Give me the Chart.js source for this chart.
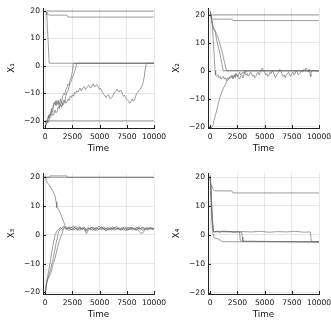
<!DOCTYPE html>
<html>
<head>
<meta charset="utf-8">
<script src="https://cdn.jsdelivr.net/npm/chart.js@4.4.1/dist/chart.umd.min.js"></script>
<style>
html,body{margin:0;padding:0;background:#fff;overflow:hidden;width:331px;height:331px;}
canvas{position:absolute;}
</style>
</head>
<body>
<canvas id="c1"></canvas>
<canvas id="c2"></canvas>
<canvas id="c3"></canvas>
<canvas id="c4"></canvas>
<script>
// ---------- tick labels ----------
const timeTicks = [0, 2500, 5000, 7500, 10000];
const valueTicks = [-20, -10, 0, 10, 20];
const axisTitles = ['X\u2081', 'X\u2082', 'X\u2083', 'X\u2084'];
const xTitle = 'Time';

// ---------- X1 series [time, value] ----------
const x1_top = [[0,20],[10000,20]];
const x1_step = [[0,20],[100,19.5],[250,18.8],[400,18.5],[2000,18.5],[2100,17.8],[10000,17.8]];
const x1_drop = [[0,20],[100,19.6],[150,18.5],[370,1],[10000,1]];
const x1_walkA = [[0,-21],[100,-20],[150,-20.8],[200,-19.5],[300,-18],[350,-19],[400,-18.5],[500,-17],[600,-15.5],[650,-16.8],[700,-16],[800,-14],[900,-13],[950,-14.2],[1000,-14.5],[1100,-13],[1200,-12.5],[1300,-14],[1400,-12],[1500,-13.5],[1600,-11],[1700,-10],[1800,-10.5],[1900,-8.5],[2000,-8],[2100,-6.5],[2200,-7],[2300,-5],[2400,-4],[2500,-2],[2600,1],[10000,1]];
const x1_walkB = [[0,-22],[100,-21],[200,-20],[300,-19],[400,-17.5],[500,-18],[600,-16],[700,-15],[800,-13.5],[900,-14],[1000,-12.5],[1100,-14],[1200,-13],[1300,-15],[1400,-14],[1500,-13],[1600,-14.5],[1700,-12.5],[1800,-13],[1900,-11],[2000,-9.5],[2100,-9],[2200,-7.5],[2300,-6],[2400,-5.5],[2500,-4],[2600,-3.5],[2700,-2],[2800,-1],[2900,1],[10000,1]];
const x1_walkC = [[0,-22.5],[100,-21],[200,-20],[300,-20.5],[400,-19],[500,-18.5],[600,-17],[700,-18],[800,-17.5],[900,-16],[1000,-17],[1100,-16.5],[1200,-15],[1300,-15.5],[1400,-14],[1500,-15],[1600,-13.5],[1700,-14],[1800,-12.5],[1900,-13.5],[2000,-13],[2100,-12],[2200,-12.5],[2300,-11],[2400,-11.5],[2500,-10.5],[2600,-11],[2700,-9.5],[2800,-10],[2900,-9],[3000,-9.5],[3100,-8.6],[3200,-8],[3300,-9],[3400,-8.5],[3500,-7.8],[3600,-7.5],[3700,-8.6],[3800,-8],[3900,-7.4],[4000,-7],[4100,-7.8],[4200,-8],[4300,-7.2],[4400,-6.5],[4500,-7.3],[4600,-7.5],[4700,-6.8],[4800,-7],[4900,-7.8],[5000,-8.5],[5100,-8.2],[5200,-9],[5300,-9.8],[5400,-10.5],[5500,-10.9],[5600,-11.5],[5700,-10.7],[5800,-10.5],[5900,-11.4],[6000,-12],[6100,-11.6],[6200,-11],[6300,-10.2],[6400,-9.5],[6500,-9.2],[6600,-8.5],[6700,-9.1],[6800,-9.5],[6900,-8.8],[7000,-9],[7100,-10.2],[7200,-11],[7300,-10.6],[7400,-11.5],[7500,-12.1],[7600,-12.5],[7700,-13.2],[7800,-13.5],[7900,-12.7],[8000,-12],[8100,-12.8],[8200,-12.5],[8300,-11.2],[8400,-10],[8500,-9.6],[8600,-9],[8700,-8.6],[8800,-8],[8900,-7.2],[9000,-6],[9100,-4],[9200,-1],[9300,1],[10000,1]];
const x1_bottom = [[0,-20],[10000,-20]];

// ---------- X2 series ----------
const x2_top = [[0,20],[10000,20]];
const x2_step = [[0,20],[150,19],[300,18.5],[2000,18.5],[2100,18],[10000,18]];
const x2_fast = [[0,21.5],[100,19.5],[200,16],[300,10],[400,3],[450,0],[500,-1.5],[600,-2],[700,-1.5],[800,-2.5],[900,-2],[1000,-3],[1100,-2.5],[1200,-2],[1300,-3],[1400,-2.5],[1500,-3.5],[1600,-2.5],[1700,-3],[1800,-2],[1900,-2.5],[2000,-1.5],[2100,-2.5],[2200,-2],[2300,-1],[2400,-2],[2500,-1.5],[2600,-2.5],[2700,-3],[2800,-2],[2900,-1.5],[3000,-2.5],[3100,-1.5],[3200,-0.5],[3300,-1.5],[3400,-1],[3500,-2],[3600,-1.5],[3700,-0.5],[3800,-1],[3900,-2],[4000,-1.5],[4100,-2.5],[4200,-2],[4300,-1],[4400,-0.5],[4500,-1.5],[4600,-0.5],[4700,0.5],[4800,1],[4900,0],[5000,-0.5],[5100,-1.5],[5200,-1],[5300,-2],[5400,-1.5],[5500,-0.5],[5600,-1],[5700,0],[5800,-0.5],[5900,-1.5],[6000,-2.5],[6100,-1.5],[6200,-1],[6300,-0.5],[6400,0.5],[6500,0],[6600,-1],[6700,-2],[6800,-1.5],[6900,-2.5],[7000,-1.5],[7100,-1],[7200,-0.5],[7300,-1.5],[7400,-2],[7500,-1],[7600,-0.5],[7700,-1.5],[7800,-1],[7900,0],[8000,-0.5],[8100,-1.5],[8200,-1],[8300,-0.5],[8400,0],[8500,-0.5],[8600,0.5],[8700,0],[8800,1],[8900,0.5],[9000,-0.5],[9100,0.5],[9200,-1.5],[9250,-2],[9300,0],[10000,0]];
const x2_slowA = [[0,21],[100,19],[200,16.5],[300,15],[450,14],[600,11],[750,8.5],[900,6],[1050,3],[1200,0],[10000,0]];
const x2_slowB = [[0,20.5],[100,19.5],[200,17],[300,15.5],[450,14.5],[600,13],[750,11.5],[900,9.5],[1050,7.5],[1200,5],[1350,2.5],[1500,0],[10000,0]];
const x2_rise = [[0,-20],[100,-20.5],[200,-20],[300,-18.7],[450,-16.5],[610,-14],[760,-11.5],[920,-9.2],[1070,-7.5],[1220,-6.2],[1380,-5],[1530,-3.8],[1700,-3],[1850,-2.5],[1990,-2],[2100,-3],[2200,-1.5],[2300,-2.5],[2400,-1],[2500,-2],[2600,-1.5],[2700,-0.5],[2800,-1.5],[2900,-1],[3000,-0.5],[3100,-1],[3200,0],[3300,-0.5],[3400,0],[10000,0]];

// ---------- X3 series ----------
const x3_top = [[0,20],[10000,20]];
const x3_bump = [[0,20],[400,20],[450,20.5],[2000,20.5],[2050,20],[10000,20]];
const x3_desc = [[0,20.5],[100,19],[200,18],[350,17.5],[500,16.5],[650,15.5],[800,14.5],[917,13.4],[1000,11.5],[1070,9.5],[1200,9],[1350,8],[1500,6.5],[1680,4.6],[1850,3],[2000,2],[2200,2.8],[2400,1.6],[2600,2.4],[2800,3.0],[3000,2.1],[3200,1.5],[3400,2.6],[3600,1.9],[3800,0.4],[4000,1.8],[4200,2.7],[4400,2.0],[4600,1.4],[4800,2.5],[5000,2.9],[5200,1.7],[5400,2.2],[5600,1.3],[5800,2.4],[6000,2.0],[6200,2.8],[6400,1.5],[6600,2.3],[6800,1.8],[7000,2.6],[7200,2.1],[7400,1.4],[7600,2.7],[7800,2.2],[8000,1.6],[8200,2.5],[8400,1.9],[8600,2.8],[8800,2.0],[9000,1.5],[9200,2.4],[9400,1.8],[9600,2.6],[9800,2.1],[10000,1.9]];
const x3_riseA = [[0,-20],[100,-17],[250,-14],[400,-11],[610,-5.8],[750,-3],[917,0],[1100,1.5],[1220,1.7],[1400,2.6],[1600,1.8],[1800,2.9],[2000,2.2],[2200,1.4],[2400,2.5],[2600,3.1],[2800,2.0],[3000,1.6],[3200,2.7],[3400,1.9],[3600,2.4],[3800,1.2],[4000,2.3],[4200,1.7],[4400,2.6],[4600,2.1],[4800,1.5],[5000,2.2],[5200,2.8],[5400,1.9],[5600,2.4],[5800,1.6],[6000,2.7],[6200,1.8],[6400,2.3],[6600,2.9],[6800,2.0],[7000,1.6],[7200,2.4],[7400,2.0],[7600,1.5],[7800,2.6],[8000,2.2],[8200,1.8],[8400,2.7],[8600,1.3],[8800,0.5],[9000,0.7],[9200,2.1],[9400,2.6],[9600,1.9],[9800,2.4],[10000,2.0]];
const x3_riseB = [[0,-20.5],[150,-17],[300,-14.5],[500,-12],[750,-8],[1000,-3],[1200,0.5],[1376,2],[1500,2.2],[1700,3.0],[1900,1.9],[2100,2.6],[2300,2.0],[2500,1.7],[2700,2.5],[2900,2.1],[3100,2.9],[3300,1.8],[3500,2.3],[3700,1.5],[3900,2.5],[4100,2.0],[4300,2.7],[4500,1.8],[4700,2.4],[4900,1.9],[5100,2.6],[5300,2.2],[5500,1.7],[5700,2.5],[5900,2.1],[6100,1.6],[6300,2.6],[6500,2.0],[6700,2.4],[6900,1.7],[7100,2.3],[7300,2.8],[7500,2.0],[7700,1.8],[7900,2.6],[8100,2.1],[8300,1.6],[8500,2.4],[8700,2.0],[8900,2.7],[9100,1.8],[9300,2.3],[9500,2.0],[9700,2.5],[9900,1.9],[10000,2.1]];
const x3_riseC = [[0,-21],[150,-16],[300,-15],[500,-13.5],[750,-10],[917,-8],[1100,-5],[1300,-2],[1500,0],[1680,2],[1800,2.5],[2000,1.9],[2200,2.3],[2400,2.8],[2600,1.7],[2800,2.2],[3000,1.8],[3200,2.5],[3400,2.1],[3600,2.6],[3800,1.7],[4000,2.3],[4200,2.0],[4400,1.6],[4600,2.5],[4800,2.2],[5000,1.8],[5200,2.4],[5400,2.7],[5600,2.0],[5800,1.7],[6000,2.3],[6200,2.1],[6400,2.6],[6600,1.9],[6800,2.3],[7000,2.0],[7200,1.7],[7400,2.4],[7600,2.2],[7800,1.8],[8000,2.5],[8200,2.0],[8400,1.6],[8600,2.3],[8800,1.9],[9000,2.6],[9200,2.1],[9400,1.7],[9600,2.3],[9800,2.0],[10000,2.2]];

// ---------- X4 series ----------
const x4_step = [[0,20],[80,17],[150,16.6],[300,15.6],[400,15.2],[2000,15.2],[2100,14.5],[10000,14.5]];
const x4_a = [[0,20.5],[100,13],[200,5],[300,1.2],[500,1.0],[700,1.3],[900,0.9],[1100,1.2],[1300,1.0],[1500,1.3],[1700,0.9],[1900,1.1],[2100,1.2],[2300,0.9],[2500,1.1],[2700,1.0],[2750,-1.5],[2850,-2.3],[10000,-2.4]];
const x4_b = [[0,20],[100,14],[200,6],[300,1.0],[600,1.2],[900,1.0],[1200,1.3],[1500,1.0],[1800,1.2],[2100,0.9],[2400,1.2],[2700,1.0],[2900,1.0],[2950,-0.8],[3000,-2.2],[10000,-2.5]];
const x4_c = [[0,20.5],[100,12],[200,4],[300,1.1],[800,1.0],[1500,1.2],[2200,0.9],[3000,1.1],[3800,1.0],[4600,1.2],[5400,0.9],[6200,1.1],[7000,1.0],[7800,1.2],[8600,0.9],[9200,1.0],[9300,-2.4],[10000,-2.5]];
const x4_d = [[0,20],[100,10],[200,2],[300,-0.5],[400,-1.2],[700,-1.4],[900,-1.8],[1100,-2.4],[10000,-2.5]];

// ---------- panels ----------
const panels = [
  {id:'c1', left:0,   top:0,   h:165, yMin:-22.55, yMax:21.1, series:[x1_top,x1_step,x1_drop,x1_walkA,x1_walkB,x1_walkC,x1_bottom]},
  {id:'c2', left:165, top:0,   h:165, yMin:-20.5,  yMax:22.5, series:[x2_top,x2_step,x2_fast,x2_slowA,x2_slowB,x2_rise]},
  {id:'c3', left:0,   top:165, h:166, yMin:-20.6,  yMax:21.5, series:[x3_top,x3_bump,x3_desc,x3_riseA,x3_riseB,x3_riseC]},
  {id:'c4', left:165, top:165, h:166, yMin:-20.5,  yMax:21.4, series:[x4_step,x4_a,x4_b,x4_c,x4_d]}
];

const W = 185;
const fmt = v => v < 0 ? '\u2212' + Math.abs(v) : String(v);
const FONT = 'DejaVu Sans';

const innerTicks = {
  id: 'innerTicks',
  afterDatasetsDraw(chart) {
    const ctx = chart.ctx, a = chart.chartArea, xs = chart.scales.x, ys = chart.scales.y;
    ctx.save();
    ctx.strokeStyle = '#222';
    ctx.lineWidth = 1;
    ctx.beginPath();
    xs.ticks.forEach(t => { const p = Math.round(xs.getPixelForValue(t.value)) + 0.5; ctx.moveTo(p, a.bottom); ctx.lineTo(p, a.bottom - 3); });
    ys.ticks.forEach(t => { const p = Math.round(ys.getPixelForValue(t.value)) + 0.5; ctx.moveTo(a.left, p); ctx.lineTo(a.left + 3, p); });
    ctx.stroke();
    ctx.restore();
  }
};

panels.forEach((p, i) => {
  const cv = document.getElementById(p.id);
  cv.width = W; cv.height = p.h;
  cv.style.left = p.left + 'px'; cv.style.top = p.top + 'px';
  cv.style.width = W + 'px'; cv.style.height = p.h + 'px';
  new Chart(cv, {
    type: 'line',
    data: {
      datasets: p.series.map(s => ({
        data: s.map(d => ({x: d[0], y: d[1]})),
        borderColor: 'rgba(110,110,110,0.68)',
        borderWidth: 1,
        pointRadius: 0,
        tension: 0,
        fill: false
      }))
    },
    options: {
      responsive: false,
      animation: false,
      devicePixelRatio: 1,
      layout: {padding: {left: 0, top: 8, right: W - 154, bottom: 0}},
      plugins: {legend: {display: false}, tooltip: {enabled: false}},
      scales: {
        x: {
          type: 'linear', min: -200, max: 10000,
          afterBuildTicks: s => { s.ticks = timeTicks.map(v => ({value: v})); },
          afterFit: s => { s.height = 37; },
          ticks: {autoSkip: false, maxRotation: 0, padding: 4, color: '#111', font: {family: FONT, size: 7.6}, callback: v => String(v)},
          grid: {color: 'rgba(0,0,0,0.09)', lineWidth: 1, drawTicks: false},
          border: {display: true, color: '#222', width: 1},
          title: {display: true, text: xTitle, color: '#111', font: {family: FONT, size: 8.8}, padding: {top: 0, bottom: 11}}
        },
        y: {
          type: 'linear', min: p.yMin, max: p.yMax,
          afterBuildTicks: s => { s.ticks = valueTicks.map(v => ({value: v})); },
          afterFit: s => { s.width = 43; },
          ticks: {autoSkip: false, padding: 3, color: '#111', font: {family: FONT, size: 7.6}, callback: v => fmt(v)},
          grid: {color: 'rgba(0,0,0,0.09)', lineWidth: 1, drawTicks: false},
          border: {display: true, color: '#222', width: 1},
          title: {display: true, text: axisTitles[i], color: '#111', font: {family: FONT, size: 8.8}, padding: {top: 6, bottom: 0}}
        }
      }
    },
    plugins: [innerTicks]
  });
});
</script>
</body>
</html>
